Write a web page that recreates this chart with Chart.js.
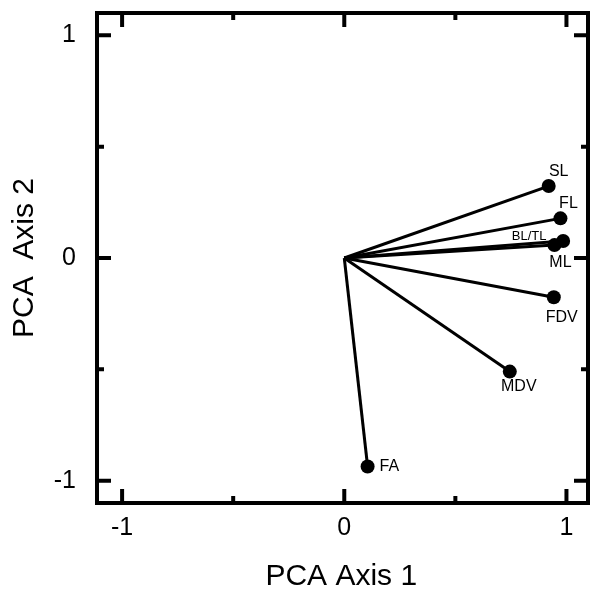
<!DOCTYPE html>
<html>
<head>
<meta charset="utf-8">
<script src="https://cdn.jsdelivr.net/npm/chart.js@4"></script>
<style>
  html, body { margin: 0; padding: 0; background: #fff; }
  #wrap { width: 590px; height: 590px; }
</style>
</head>
<body>
<div id="wrap"><canvas id="myChart" width="590" height="590"></canvas></div>
<script>
// loadings
const variables = ['SL', 'FL', 'BL/TL', 'ML', 'FDV', 'MDV', 'FA'];
const axis1 = [0.920, 0.973, 0.985, 0.946, 0.943, 0.745, 0.105];
const axis2 = [0.323, 0.178, 0.076, 0.058, -0.176, -0.510, -0.936];
const majorTicks = [-1, 0, 1];
const minorTicks = [-0.5, 0.5];

// where each name sits next to its point: [dx, dy, font size, align]
const labelPlace = {
  'SL': [10, -14, 16, 'center'],
  'FL': [8, -15, 16, 'center'],
  'BL/TL': [-34, -5, 13, 'center'],
  'ML': [6, 18, 16, 'center'],
  'FDV': [8, 20, 16, 'center'],
  'MDV': [9, 15, 16, 'center'],
  'FA': [12, 0, 16, 'left']
};

const FONT = "'Liberation Sans', Arial, sans-serif";

const datasets = variables.map((name, i) => ({
  label: name,
  data: [{ x: 0, y: 0 }, { x: axis1[i], y: axis2[i] }],
  showLine: true,
  borderColor: '#000',
  borderWidth: 3,
  backgroundColor: '#000',
  pointRadius: [0, 7],
  pointHoverRadius: [0, 7],
  pointBorderWidth: 0
}));

const framePlugin = {
  id: 'frame',
  afterDraw(chart) {
    const ctx = chart.ctx;
    const a = chart.chartArea;
    const xs = chart.scales.x, ys = chart.scales.y;
    ctx.save();
    ctx.strokeStyle = '#000';
    ctx.lineWidth = 4;
    ctx.strokeRect(a.left, a.top, a.right - a.left, a.bottom - a.top);

    const tick = (v, len) => {
      const px = xs.getPixelForValue(v);
      const py = ys.getPixelForValue(v);
      ctx.beginPath();
      ctx.moveTo(px, a.bottom); ctx.lineTo(px, a.bottom - len);
      ctx.moveTo(px, a.top); ctx.lineTo(px, a.top + len);
      ctx.moveTo(a.left, py); ctx.lineTo(a.left + len, py);
      ctx.moveTo(a.right, py); ctx.lineTo(a.right - len, py);
      ctx.stroke();
    };
    majorTicks.forEach(v => tick(v, 14));
    minorTicks.forEach(v => tick(v, 7));

    // point names
    ctx.fillStyle = '#000';
    ctx.textBaseline = 'middle';
    variables.forEach((name, i) => {
      const p = labelPlace[name];
      ctx.font = p[2] + 'px ' + FONT;
      ctx.textAlign = p[3];
      ctx.fillText(name, xs.getPixelForValue(axis1[i]) + p[0], ys.getPixelForValue(axis2[i]) + p[1]);
    });

    // axis titles
    ctx.font = '30px ' + FONT;
    ctx.textAlign = 'center';
    ctx.textBaseline = 'alphabetic';
    ctx.fillText('PCA Axis 1', xs.getPixelForValue(0) - 3, 585);
    ctx.save();
    ctx.translate(33, (a.top + a.bottom) / 2);
    ctx.rotate(-Math.PI / 2);
    ctx.fillText('PCA  Axis 2', 0, 0);
    ctx.restore();
    ctx.restore();
  }
};

new Chart(document.getElementById('myChart'), {
  type: 'scatter',
  data: { datasets },
  options: {
    responsive: false,
    animation: false,
    events: [],
    layout: { autoPadding: false, padding: { top: 13, right: 2, left: 0, bottom: 0 } },
    plugins: { legend: { display: false }, tooltip: { enabled: false } },
    scales: {
      x: {
        type: 'linear', min: -1.113, max: 1.097,
        afterBuildTicks: s => { s.ticks = majorTicks.map(v => ({ value: v })); },
        afterFit: s => { s.height = 87; s.paddingLeft = 0; s.paddingRight = 0; },
        grid: { display: false, drawTicks: false },
        border: { display: false },
        ticks: { color: '#000', padding: 10, font: { family: FONT, size: 25 }, maxRotation: 0 }
      },
      y: {
        type: 'linear', min: -1.1, max: 1.1,
        afterBuildTicks: s => { s.ticks = majorTicks.map(v => ({ value: v })); },
        afterFit: s => { s.width = 97; s.paddingTop = 0; s.paddingBottom = 0; },
        grid: { display: false, drawTicks: false },
        border: { display: false },
        ticks: { color: '#000', padding: 21, font: { family: FONT, size: 25 } }
      }
    }
  },
  plugins: [framePlugin]
});
</script>
</body>
</html>
